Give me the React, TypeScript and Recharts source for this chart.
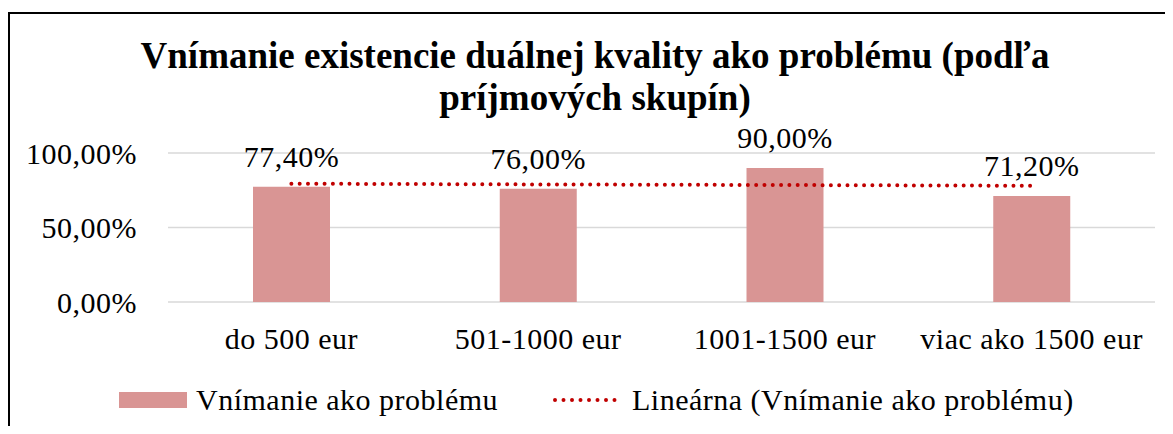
import React from "react";
import {
  ComposedChart,
  Bar,
  Line,
  XAxis,
  YAxis,
  CartesianGrid,
  LabelList,
  Legend,
} from "recharts";

const categories = ["do 500 eur", "501-1000 eur", "1001-1500 eur", "viac ako 1500 eur"];
const shares = [77.4, 76.0, 90.0, 71.2];
const trendShares = [79.4, 78.9, 78.5, 78.0];
const yTicks = [0, 50, 100];
const titleLines = [
  "Vnímanie existencie duálnej kvality ako problému (podľa",
  "príjmových skupín)",
];
const seriesName = "Vnímanie ako problému";
const trendName = "Lineárna (Vnímanie ako problému)";

const FONT = '"Liberation Serif", "Times New Roman", serif';
const BAR_COLOR = "#d99594";
const TREND_COLOR = "#c00000";
const textStyle = { fill: "#000", fontSize: 30, fontFamily: FONT, letterSpacing: 0.5 };

const data = categories.map((name, i) => ({
  name,
  share: shares[i],
  trend: trendShares[i],
}));

const pct = (v: number) => v.toFixed(2).replace(".", ",") + "%";

function LegendContent() {
  return (
    <div
      style={{
        display: "flex",
        alignItems: "center",
        height: 40,
        fontFamily: FONT,
        fontSize: 30,
        letterSpacing: 0.5,
        color: "#000",
        whiteSpace: "nowrap",
      }}
    >
      <span style={{ marginLeft: 109, width: 68, height: 16, background: BAR_COLOR }} />
      <span style={{ marginLeft: 9, width: 310 }}>{seriesName}</span>
      <svg width={72} height={8} style={{ marginLeft: 47 }}>
        <line
          x1={2}
          y1={4}
          x2={70}
          y2={4}
          stroke={TREND_COLOR}
          strokeWidth={4}
          strokeLinecap="round"
          strokeDasharray="0 8.5"
        />
      </svg>
      <span style={{ marginLeft: 7 }}>{trendName}</span>
    </div>
  );
}

export default function App() {
  return (
    <div
      style={{
        position: "relative",
        marginTop: 4,
        width: 1163,
        height: 412,
        borderTop: "2px solid #000",
        borderLeft: "2px solid #000",
        background: "#fff",
      }}
    >
      <div
        style={{
          position: "absolute",
          top: 21,
          left: 0,
          width: 1170,
          textAlign: "center",
          fontFamily: FONT,
          fontWeight: "bold",
          fontSize: 37,
          lineHeight: "42px",
          color: "#000",
          zIndex: 1,
        }}
      >
        {titleLines.map((t) => (
          <div key={t}>{t}</div>
        ))}
      </div>
      <ComposedChart
        width={1163}
        height={412}
        data={data}
        margin={{ top: 139, right: 18, left: 0, bottom: 14 }}
      >
        <CartesianGrid vertical={false} stroke="#d9d9d9" strokeWidth={1.5} />
        <XAxis
          dataKey="name"
          axisLine={false}
          tickLine={false}
          tickSize={0}
          tickMargin={26}
          height={70}
          interval={0}
          tick={textStyle}
        />
        <YAxis
          domain={[0, 100]}
          ticks={yTicks}
          tickFormatter={pct}
          axisLine={false}
          tickLine={false}
          tickSize={0}
          tickMargin={31}
          width={158}
          tick={textStyle}
        />
        <Bar
          dataKey="share"
          name={seriesName}
          fill={BAR_COLOR}
          barSize={77}
          isAnimationActive={false}
        >
          <LabelList
            dataKey="share"
            position="top"
            offset={20}
            formatter={(v: any) => pct(Number(v))}
            style={textStyle}
          />
        </Bar>
        <Line
          dataKey="trend"
          name={trendName}
          stroke={TREND_COLOR}
          strokeWidth={4}
          strokeLinecap="round"
          strokeDasharray="0 8.3"
          dot={false}
          activeDot={false}
          isAnimationActive={false}
        />
        <Legend
          content={<LegendContent />}
          verticalAlign="bottom"
          height={40}
          wrapperStyle={{ top: 366, left: 0, width: 1163 }}
        />
      </ComposedChart>
    </div>
  );
}
